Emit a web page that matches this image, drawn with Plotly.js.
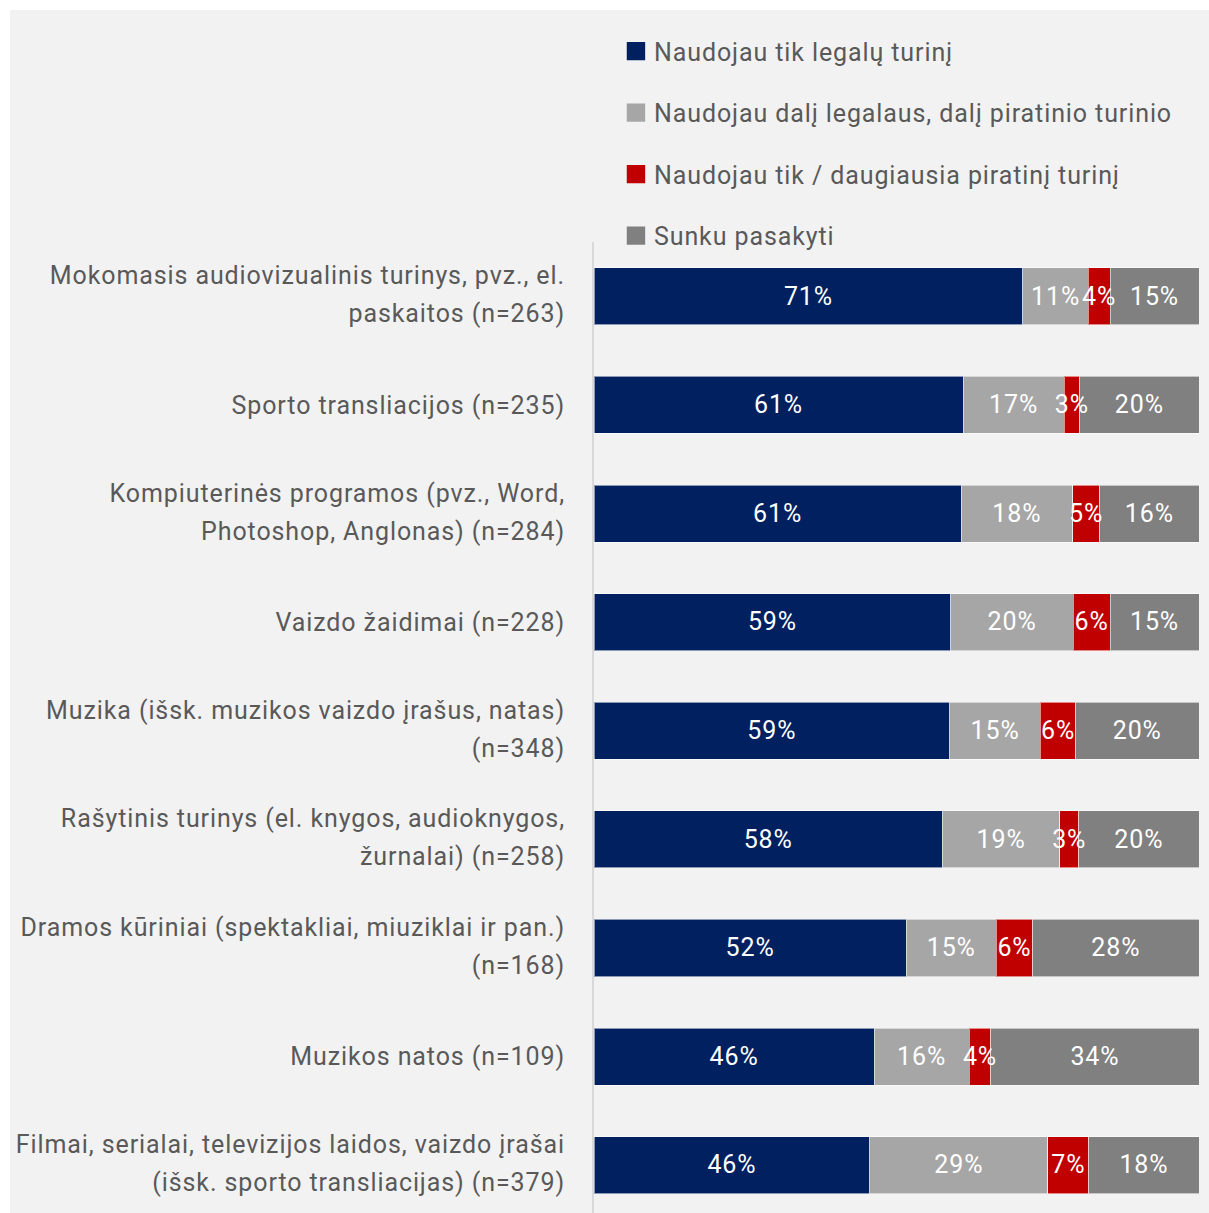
<!DOCTYPE html>
<html>
<head>
<meta charset="utf-8">
<script src="https://cdn.plot.ly/plotly-3.0.1.min.js"></script>
<style>
html,body{margin:0;padding:0;background:#ffffff;overflow:hidden;}
#chart{position:absolute;left:10px;top:10px;width:1199px;height:1203px;}
text{letter-spacing:0.9px;}
</style>
</head>
<body>
<div id="chart"></div>
<script>
const categories = [
  "Mokomasis audiovizualinis turinys, pvz., el.<br>paskaitos (n=263)",
  "Sporto transliacijos (n=235)",
  "Kompiuterinės programos (pvz., Word,<br>Photoshop, Anglonas) (n=284)",
  "Vaizdo žaidimai (n=228)",
  "Muzika (išsk. muzikos vaizdo įrašus, natas)<br>(n=348)",
  "Rašytinis turinys (el. knygos, audioknygos,<br>žurnalai) (n=258)",
  "Dramos kūriniai (spektakliai, miuziklai ir pan.)<br>(n=168)",
  "Muzikos natos (n=109)",
  "Filmai, serialai, televizijos laidos, vaizdo įrašai<br>(išsk. sporto transliacijas) (n=379)"
];
const seriesNames = [
  "Naudojau tik legalų turinį",
  "Naudojau dalį legalaus, dalį piratinio turinio",
  "Naudojau tik / daugiausia piratinį turinį",
  "Sunku pasakyti"
];
const legalOnly   = [70.9, 61.0, 60.7, 59.0, 58.8, 57.6, 51.6, 46.3, 45.6];
const partPirate  = [10.8, 16.7, 18.4, 20.2, 15.0, 19.4, 14.9, 15.7, 29.4];
const mostlyPirate= [3.6, 2.6, 4.5, 6.1, 5.8, 3.1, 6.0, 3.6, 6.8];
const hardToSay   = [14.7, 19.7, 16.4, 14.7, 20.4, 19.9, 27.5, 34.4, 18.2];
const seriesValues = [legalOnly, partPirate, mostlyPirate, hardToSay];
const colors = ["#002060", "#a6a6a6", "#c00000", "#808080"];

const FONT = "Roboto, 'Noto Sans', sans-serif";
const traces = [];
// stacked bars
seriesValues.forEach((vals, i) => {
  traces.push({
    type: "bar",
    orientation: "h",
    name: seriesNames[i],
    x: vals,
    y: categories,
    marker: {color: colors[i], line: {color: "rgba(255,255,255,0.55)", width: 1}},
    showlegend: false,
    hoverinfo: "skip"
  });
});
// value labels drawn on top of all bars (centre of each stacked segment)
const cum = categories.map(() => 0);
seriesValues.forEach((vals, i) => {
  const mids = vals.map((v, k) => cum[k] + v / 2);
  vals.forEach((v, k) => { cum[k] += v; });
  traces.push({
    type: "scatter",
    mode: "text",
    x: mids,
    y: categories,
    text: vals.map(v => Math.round(v) + "%"),
    textposition: "middle center",
    textfont: {family: FONT, size: 25, color: "#ffffff"},
    showlegend: false,
    hoverinfo: "skip",
    cliponaxis: false
  });
});
// legend entries
seriesNames.forEach((nm, i) => {
  traces.push({
    type: "scatter",
    mode: "markers",
    name: nm,
    x: [null],
    y: [null],
    marker: {symbol: "square", size: 16, color: colors[i]},
    legendgroup: "g" + i,
    showlegend: true,
    hoverinfo: "skip"
  });
});

const layout = {
  width: 1199,
  height: 1203,
  paper_bgcolor: "#f2f2f2",
  plot_bgcolor: "#f2f2f2",
  barmode: "stack",
  bargap: 0.475,
  margin: {l: 584, r: 10, t: 232, b: 0},
  font: {family: FONT, size: 25, color: "#595959"},
  xaxis: {range: [0, 100], visible: false, fixedrange: true},
  yaxis: {
    type: "category",
    range: [8.44, -0.5],
    showline: true,
    linecolor: "#d9d9d9",
    linewidth: 2,
    ticks: "outside",
    ticklen: 22,
    tickcolor: "rgba(0,0,0,0)",
    tickfont: {family: FONT, size: 25, color: "#595959"},
    showgrid: false,
    zeroline: false,
    fixedrange: true
  },
  legend: {
    x: 0.033, xanchor: "left",
    y: 1.22, yanchor: "top",
    traceorder: "grouped",
    tracegroupgap: 26,
    bgcolor: "rgba(0,0,0,0)",
    font: {family: FONT, size: 25, color: "#595959"}
  },
  showlegend: true
};

Plotly.newPlot("chart", traces, layout, {displayModeBar: false, staticPlot: true}).then(gd => {
  // widen line spacing of two-line category labels to match the reference
  gd.querySelectorAll(".ytick text").forEach(t => {
    const lines = t.querySelectorAll("tspan.line");
    if (lines.length === 2) {
      lines[1].setAttribute("dy", "1.52em");
      const tr = t.getAttribute("transform") || "";
      t.setAttribute("transform", tr + " translate(0,-4.5)");
    }
  });
  // nudge value labels to the optical centre of the bars
  gd.querySelectorAll(".scatterlayer .textpoint").forEach(g => {
    const tr = g.getAttribute("transform") || "";
    g.setAttribute("transform", tr + " translate(0,2)");
  });
  // slightly larger legend squares, closer to the label as in the reference
  gd.querySelectorAll(".legend .legendpoints path.scatterpts").forEach(p => {
    p.setAttribute("transform", "translate(22,0) scale(1.15)");
  });
});
</script>
</body>
</html>
